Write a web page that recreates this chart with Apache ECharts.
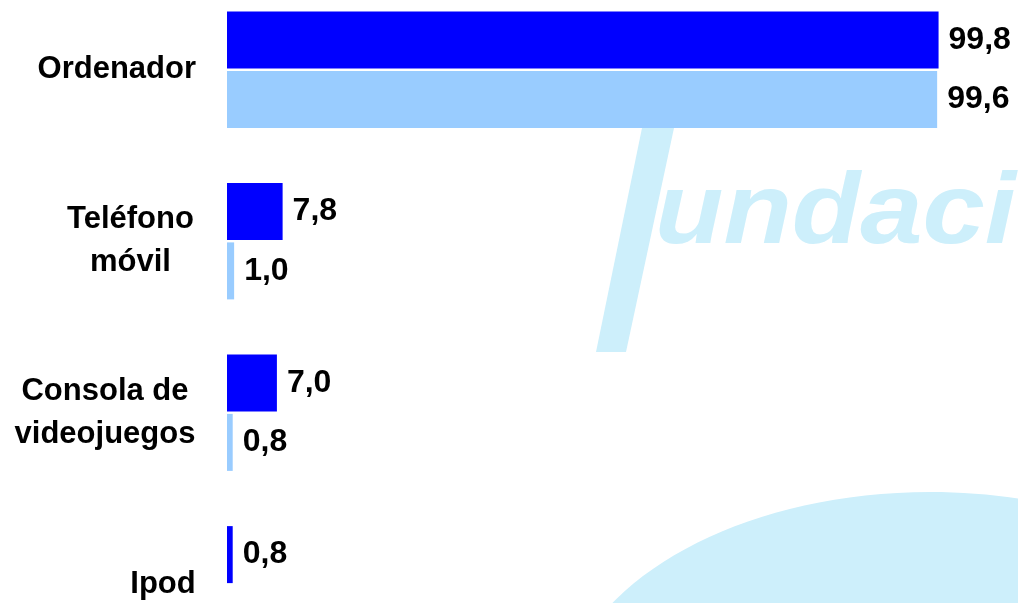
<!DOCTYPE html>
<html>
<head>
<meta charset="utf-8">
<script src="https://cdn.jsdelivr.net/npm/echarts@6/dist/echarts.min.js"></script>
<style>
html,body{margin:0;padding:0;background:#fff;overflow:hidden;}
#chart{width:1018px;height:686px;margin-top:-16px;}
</style>
</head>
<body>
<div id="chart"></div>
<script>
var categories = ['Ordenador', 'Teléfono\nmóvil', 'Consola de\nvideojuegos', 'Ipod'];
var seriesDark = [99.8, 7.8, 7.0, 0.8];
var seriesLight = [99.6, 1.0, 0.8, null];

var FONT = '"Liberation Sans", Arial, sans-serif';
var base = {fontFamily: FONT, fontWeight: 'bold', fontSize: 31, color: '#000', lineHeight: 43};
function ext(o){ var r = {}; for (var k in base) r[k] = base[k]; for (var k2 in o) r[k2] = o[k2]; return r; }

var chart = echarts.init(document.getElementById('chart'), null, {renderer: 'canvas'});
var fmt = function (v) { return (v == null || isNaN(v)) ? '' : Number(v).toFixed(1).replace('.', ','); };
var WM = '#CDEFFB';
var OY = 16; // page offset of chart container

chart.setOption({
  animation: false,
  backgroundColor: '#ffffff',
  grid: {left: 227, right: 78, top: 0, bottom: 0, containLabel: false},
  xAxis: {type: 'value', min: 0, max: 100, show: false},
  yAxis: {
    type: 'category',
    data: categories,
    inverse: true,
    axisLine: {show: false},
    axisTick: {show: false},
    splitLine: {show: false},
    axisLabel: {
      margin: 31,
      align: 'right',
      formatter: function (value, idx) {
        return value.split('\n').map(function (l) { return '{c' + idx + '|' + l + '}'; }).join('\n');
      },
      rich: {
        c0: ext({}),
        c1: ext({width: 131, align: 'center'}),
        c2: ext({width: 182, align: 'center'}),
        c3: ext({width: 66, align: 'center'})
      }
    }
  },
  graphic: [
    {type: 'ellipse', z: -10, shape: {cx: 930, cy: 720 + OY, rx: 370, ry: 228}, style: {fill: WM}},
    {type: 'polygon', z: -10, shape: {points: [[642,128+OY],[674,128+OY],[626,352+OY],[596,352+OY]]}, style: {fill: WM}},
    {type: 'circle', z: -10, shape: {cx: 712, cy: 110 + OY, r: 14}, style: {fill: WM}},
    {type: 'text', z: -10, x: 655, y: 215 + OY, scaleX: 1.12, style: {x: 0, y: 0, text: 'undación', font: 'italic bold 100px "Liberation Sans", Arial, sans-serif', fill: WM, verticalAlign: 'middle'}}
  ],
  series: [
    {
      name: 'A', type: 'bar', data: seriesDark, barWidth: 57, barGap: '4%',
      itemStyle: {color: '#0000FF'},
      label: {show: true, position: 'right', distance: 10, formatter: function (p) { return fmt(p.value); },
        fontFamily: FONT, fontWeight: 'bold', fontSize: 32, color: '#000'}
    },
    {
      name: 'B', type: 'bar', data: seriesLight, barWidth: 57, barGap: '4%',
      itemStyle: {color: '#99CCFF'},
      label: {show: true, position: 'right', distance: 10, formatter: function (p) { return fmt(p.value); },
        fontFamily: FONT, fontWeight: 'bold', fontSize: 32, color: '#000'}
    }
  ]
});
</script>
</body>
</html>
